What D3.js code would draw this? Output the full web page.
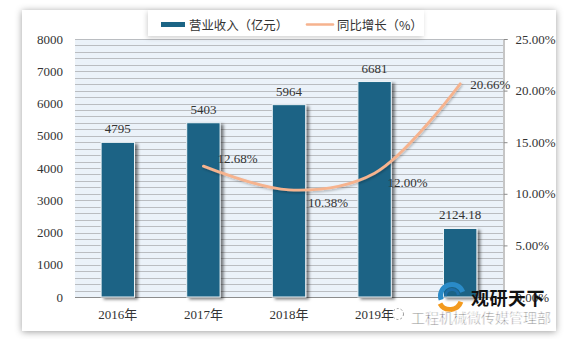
<!DOCTYPE html>
<html>
<head>
<meta charset="utf-8">
<script src="https://cdn.jsdelivr.net/npm/d3@7"></script>
<style>
  body { margin: 0; background: #fff; }
  svg { display: block; }
</style>
</head>
<body>
<svg id="chart" width="568" height="339"></svg>
<script>
// Revenue (bars, left axis) and year-on-year growth (line, right axis)
const categories = ["2016年", "2017年", "2018年", "2019年", "2020年H1"];
const revenue = [4795, 5403, 5964, 6681, 2124.18];
const revenueLabels = ["4795", "5403", "5964", "6681", "2124.18"];
const growthCategories = ["2017年", "2018年", "2019年", "2020年H1"];
const growth = [12.68, 10.38, 12.00, 20.66];
const growthLabels = ["12.68%", "10.38%", "12.00%", "20.66%"];
const leftTicks = [0, 1000, 2000, 3000, 4000, 5000, 6000, 7000, 8000];
const rightTicks = [0, 5, 10, 15, 20, 25];
const seriesNames = ["营业收入（亿元）", "同比增长（%）"];

const numFont = "'Liberation Serif', 'Noto Sans CJK SC', serif";
const cjkFont = "'Noto Sans CJK SC', sans-serif";
const barColor = "#1b6485";
const lineColor = "#f6b38e";

const svg = d3.select("#chart");
const defs = svg.append("defs");

const cardShadow = defs.append("filter").attr("id", "cardShadow")
  .attr("x", "-5%").attr("y", "-5%").attr("width", "110%").attr("height", "110%");
cardShadow.append("feDropShadow").attr("dx", 0).attr("dy", 1)
  .attr("stdDeviation", 3.5).attr("flood-color", "#000").attr("flood-opacity", 0.38);

const barShadow = defs.append("filter").attr("id", "barShadow")
  .attr("x", "-30%").attr("y", "-10%").attr("width", "160%").attr("height", "120%");
barShadow.append("feDropShadow").attr("dx", 3).attr("dy", 2)
  .attr("stdDeviation", 1.6).attr("flood-color", "#000").attr("flood-opacity", 0.5);

const lineShadow = defs.append("filter").attr("id", "lineShadow")
  .attr("x", "-10%").attr("y", "-10%").attr("width", "120%").attr("height", "130%");
lineShadow.append("feDropShadow").attr("dx", 1).attr("dy", 1.5)
  .attr("stdDeviation", 1).attr("flood-color", "#000").attr("flood-opacity", 0.25);

const legendShadow = defs.append("filter").attr("id", "legendShadow")
  .attr("x", "-10%").attr("y", "-30%").attr("width", "120%").attr("height", "170%");
legendShadow.append("feDropShadow").attr("dx", -1).attr("dy", 2)
  .attr("stdDeviation", 2.5).attr("flood-color", "#000").attr("flood-opacity", 0.18);

// Card
svg.append("rect").attr("x", 22).attr("y", 10).attr("width", 534).attr("height", 321)
  .attr("fill", "#fff").attr("filter", "url(#cardShadow)");

// Plot geometry
const plot = { left: 75, right: 503, top: 39, bottom: 297 };

const x = d3.scaleBand().domain(categories)
  .range([plot.left, plot.right]).paddingInner(0.61).paddingOuter(0.305);
const y = d3.scaleLinear().domain([0, 8000]).range([plot.bottom, plot.top]);
const y2 = d3.scaleLinear().domain([0, 25]).range([plot.bottom, plot.top]);

// Striped plot background
svg.append("rect").attr("x", plot.left).attr("y", plot.top)
  .attr("width", plot.right - plot.left).attr("height", plot.bottom - plot.top)
  .attr("fill", "#ebf2f9");
svg.append("g").selectAll("line").data(d3.range(0, 8001, 200)).join("line")
  .attr("x1", plot.left).attr("x2", plot.right)
  .attr("y1", d => Math.round(y(d)) + 0.5).attr("y2", d => Math.round(y(d)) + 0.5)
  .attr("stroke", d => d === 0 ? "#8c8c8c" : "#babdc1").attr("stroke-width", 1);

// Left axis (labels only)
const leftAxis = svg.append("g").attr("transform", `translate(${plot.left},0)`)
  .call(d3.axisLeft(y).tickValues(leftTicks).tickSize(0).tickPadding(12).tickFormat(d3.format("d")));
leftAxis.select(".domain").remove();
leftAxis.selectAll("text").attr("font-family", numFont).attr("font-size", 13).attr("fill", "#333");

// Right axis
const rightAxis = svg.append("g").attr("transform", `translate(${plot.right + 0.5},0)`)
  .call(d3.axisRight(y2).tickValues(rightTicks).tickSize(4).tickPadding(8)
    .tickFormat(d => d3.format(".2f")(d) + "%"));
rightAxis.select(".domain").attr("stroke", "#8c8c8c");
rightAxis.selectAll(".tick line").attr("stroke", "#8c8c8c");
rightAxis.selectAll("text").attr("font-family", numFont).attr("font-size", 13).attr("fill", "#333");

// Bottom axis labels; the last one sits under the publisher mark
const bottomAxis = svg.append("g").attr("transform", `translate(0,${plot.bottom})`)
  .call(d3.axisBottom(x).tickSize(0).tickPadding(13));
bottomAxis.select(".domain").remove();
bottomAxis.selectAll("text").attr("font-family", numFont).attr("font-size", 13).attr("fill", "#333");
bottomAxis.selectAll(".tick").filter(d => d === categories[categories.length - 1]).remove();

// Bars
svg.append("g").selectAll("rect").data(revenue).join("rect")
  .attr("x", (d, i) => x(categories[i]))
  .attr("y", d => y(d))
  .attr("width", x.bandwidth())
  .attr("height", d => y(0) - y(d))
  .attr("fill", barColor)
  .attr("stroke", "#eef4f8").attr("stroke-width", 1)
  .attr("filter", "url(#barShadow)");

svg.append("g").selectAll("text").data(revenue).join("text")
  .attr("x", (d, i) => x(categories[i]) + x.bandwidth() / 2)
  .attr("y", d => y(d) - 9)
  .attr("text-anchor", "middle")
  .attr("font-family", numFont).attr("font-size", 13).attr("fill", "#333")
  .text((d, i) => revenueLabels[i]);

// Growth line
const cx = c => x(c) + x.bandwidth() / 2;
const line = d3.line()
  .x((d, i) => cx(growthCategories[i]))
  .y(d => y2(d))
  .curve(d3.curveCatmullRom.alpha(0.5));
svg.append("path").datum(growth)
  .attr("d", line)
  .attr("fill", "none").attr("stroke", lineColor).attr("stroke-width", 2.8)
  .attr("stroke-linecap", "round")
  .attr("filter", "url(#lineShadow)");

// Growth labels placed to the right of each point
const labelNudge = [[14, -3], [19, 17], [13, 14], [10, 5]];
svg.append("g").selectAll("text").data(growth).join("text")
  .attr("x", (d, i) => cx(growthCategories[i]) + labelNudge[i][0])
  .attr("y", (d, i) => y2(d) + labelNudge[i][1])
  .attr("font-family", numFont).attr("font-size", 13).attr("fill", "#333")
  .text((d, i) => growthLabels[i]);

// Legend
const legend = svg.append("g");
legend.append("rect").attr("x", 148).attr("y", 10).attr("width", 276).attr("height", 26)
  .attr("fill", "#fff").attr("filter", "url(#legendShadow)");
legend.append("rect").attr("x", 161).attr("y", 22).attr("width", 24).attr("height", 5)
  .attr("fill", barColor);
legend.append("text").attr("x", 189).attr("y", 29.5)
  .attr("font-family", cjkFont).attr("font-size", 12.4).attr("fill", "#333")
  .text(seriesNames[0]);
legend.append("line").attr("x1", 307).attr("x2", 333).attr("y1", 24.5).attr("y2", 24.5)
  .attr("stroke", lineColor).attr("stroke-width", 2.6).attr("stroke-linecap", "round");
legend.append("text").attr("x", 337).attr("y", 29.5)
  .attr("font-family", cjkFont).attr("font-size", 12.4).attr("fill", "#333")
  .text(seriesNames[1]);

// Publisher mark in the lower right corner
const mark = svg.append("g");
mark.append("rect").attr("x", 406).attr("y", 304).attr("width", 148).attr("height", 24).attr("fill", "#fff");
mark.append("path")
  .attr("d", d3.arc()({ innerRadius: 9, outerRadius: 14, startAngle: -1.9, endAngle: 1.2 }))
  .attr("transform", "translate(452,296)").attr("fill", "#2a8bc8");
mark.append("path")
  .attr("d", d3.arc()({ innerRadius: 5, outerRadius: 8, startAngle: -1.6, endAngle: 1.4 }))
  .attr("transform", "translate(452,296)").attr("fill", "#1f6fa8");
mark.append("path")
  .attr("d", d3.arc()({ innerRadius: 9, outerRadius: 14, startAngle: 1.9, endAngle: 4.2 }))
  .attr("transform", "translate(450,298)").attr("fill", "#f39a1e");
mark.append("text").attr("x", 471).attr("y", 305)
  .attr("font-family", cjkFont).attr("font-weight", "bold").attr("font-size", 18)
  .attr("fill", "#111").attr("letter-spacing", 0.5)
  .text("观研天下");
mark.append("circle").attr("cx", 398).attr("cy", 314).attr("r", 5.5)
  .attr("fill", "#fff").attr("stroke", "#999").attr("stroke-dasharray", "2 2");
mark.append("text").attr("x", 411).attr("y", 323)
  .attr("font-family", cjkFont).attr("font-size", 14)
  .attr("fill", "#666").attr("stroke", "#fff").attr("stroke-width", 0.6)
  .text("工程机械微传媒管理部");
</script>
</body>
</html>
